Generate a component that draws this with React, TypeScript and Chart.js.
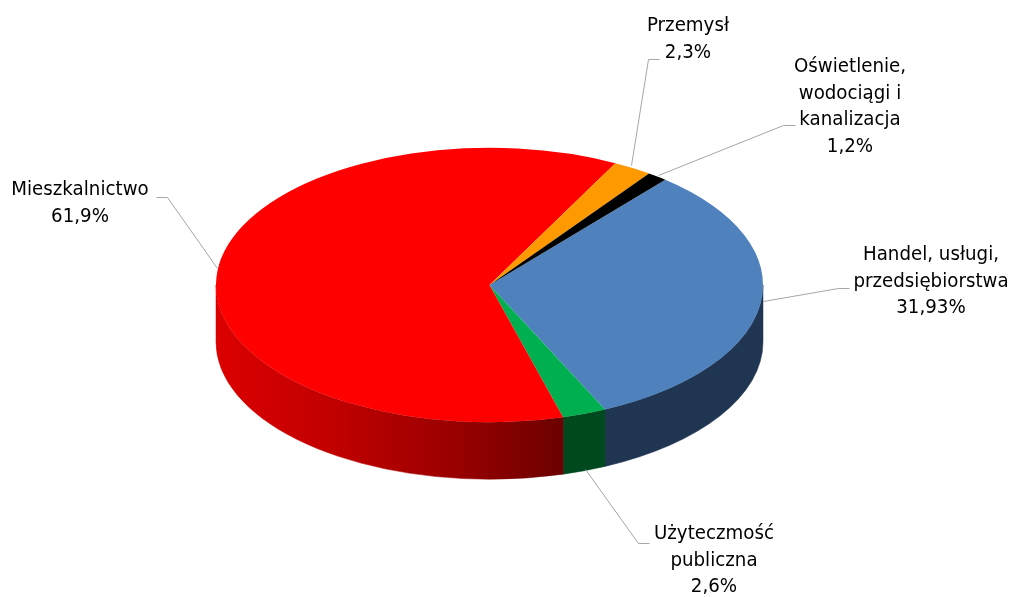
import React, { useEffect, useRef } from "react";
import { Chart, registerables } from "chart.js";

Chart.register(...registerables);

// Data (order starts at the slice that begins at the chart's rotation)
const categories = ["Handel, usługi, przedsiębiorstwa", "Użyteczmość publiczna", "Mieszkalnictwo", "Przemysł", "Oświetlenie, wodociągi i kanalizacja"];
const labelLines = [
  ["Handel, usługi,", "przedsiębiorstwa"],
  ["Użyteczmość", "publiczna"],
  ["Mieszkalnictwo"],
  ["Przemysł"],
  ["Oświetlenie,", "wodociągi i", "kanalizacja"],
];
const shares = [31.93, 2.6, 61.9, 2.3, 1.2];
const topColors = ["#4f81bd", "#00b050", "#ff0000", "#ff9900", "#000000"];

// Layout and style
const W = 1011, H = 597;
const CX = 489.5, CY = 285, RX = 273.5, SQUASH = 137 / 273, DEPTH = 57;
const FONT = '19.5px "DejaVu Sans"';
const TEXT_STRETCH = 0.935;
const LINE_H = 26.5;
const labelBoxes = [
  { x: 931, y: 255 }, { x: 714, y: 534 }, { x: 80, y: 190 }, { x: 688, y: 26 }, { x: 850, y: 67 },
];
const leaders = [
  [[763, 301], [838, 288], [849, 288]],
  [[585, 469], [638, 543], [649, 543]],
  [[217, 268], [167, 197], [156, 197]],
  [[631, 165], [648, 59], [659, 59]],
  [[658, 175], [783, 125], [795, 125]],
];

function sideFill(ctx: CanvasRenderingContext2D, i: number) {
  if (i === 0) return "#1f3552";
  if (i === 1) return "#00491f";
  if (i === 2) {
    const g = ctx.createLinearGradient(CX - RX, 0, 563, 0);
    g.addColorStop(0, "#dc0000");
    g.addColorStop(0.35, "#c00000");
    g.addColorStop(0.7, "#980000");
    g.addColorStop(1, "#6c0000");
    return g;
  }
  return "#7f4c00";
}

const pie3d = {
  id: "pie3d",
  beforeDatasetsDraw(chart: any) {
    const ctx: CanvasRenderingContext2D = chart.ctx;
    const arcs = chart.getDatasetMeta(0).data;
    const ry = RX * SQUASH;
    arcs.forEach((arc: any, i: number) => {
      const TAU = Math.PI * 2;
      // visible part of the rim: canvas angles 0..PI
      for (const shift of [0, -TAU, TAU]) {
        const a = Math.max(arc.startAngle + shift, 0);
        const b = Math.min(arc.endAngle + shift, Math.PI);
        if (b <= a) continue;
        ctx.save();
        ctx.beginPath();
        ctx.ellipse(arc.x, arc.y, arc.outerRadius, ry, 0, a, b);
        ctx.lineTo(arc.x + arc.outerRadius * Math.cos(b), arc.y + ry * Math.sin(b) + DEPTH);
        ctx.ellipse(arc.x, arc.y + DEPTH, arc.outerRadius, ry, 0, b, a, true);
        ctx.closePath();
        const f = sideFill(ctx, i);
        ctx.fillStyle = f;
        ctx.strokeStyle = f;
        ctx.lineWidth = 0.5;
        ctx.fill();
        ctx.stroke();
        ctx.restore();
      }
    });
  },
  beforeDatasetDraw(chart: any) {
    const ctx = chart.ctx;
    const arc = chart.getDatasetMeta(0).data[0];
    ctx.save();
    ctx.translate(arc.x, arc.y);
    ctx.scale(1, SQUASH);
    ctx.translate(-arc.x, -arc.y);
  },
  afterDatasetDraw(chart: any) {
    chart.ctx.restore();
  },
  afterDraw(chart: any) {
    const ctx: CanvasRenderingContext2D = chart.ctx;
    ctx.save();
    ctx.strokeStyle = "#a6a6a6";
    ctx.lineWidth = 1;
    leaders.forEach((pts) => {
      ctx.beginPath();
      pts.forEach(([x, y], k) => (k ? ctx.lineTo(x + 0.5, y + 0.5) : ctx.moveTo(x + 0.5, y + 0.5)));
      ctx.stroke();
    });
    ctx.fillStyle = "#000000";
    ctx.font = FONT;
    ctx.textAlign = "center";
    ctx.textBaseline = "middle";
    labelLines.forEach((lines, i) => {
      const all = [...lines, String(shares[i]).replace(".", ",") + "%"];
      all.forEach((t, k) => {
        ctx.save();
        ctx.translate(labelBoxes[i].x, labelBoxes[i].y + k * LINE_H);
        ctx.scale(TEXT_STRETCH, 1);
        ctx.fillText(t, 0, 0);
        ctx.restore();
      });
    });
    ctx.restore();
  },
};

export default function App() {
  const ref = useRef<HTMLCanvasElement>(null);
  useEffect(() => {
    const chart = new Chart(ref.current!, {
      type: "pie",
      data: {
        labels: categories,
        datasets: [{
          data: shares,
          backgroundColor: topColors,
          borderWidth: 0,
          radius: RX,
          clip: false,
        } as any],
      },
      options: {
        animation: false,
        responsive: false,
        rotation: 40,
        layout: { padding: { left: 0, top: 0, right: W - 2 * CX, bottom: H - 2 * CY } },
        plugins: { legend: { display: false }, tooltip: { enabled: false } },
      },
      plugins: [pie3d],
    });
    return () => chart.destroy();
  }, []);
  return (
    <div style={{ position: "fixed", left: 0, top: 0, width: W, height: H, background: "#fff" }}>
      <canvas ref={ref} width={W} height={H} style={{ display: "block" }} />
    </div>
  );
}
